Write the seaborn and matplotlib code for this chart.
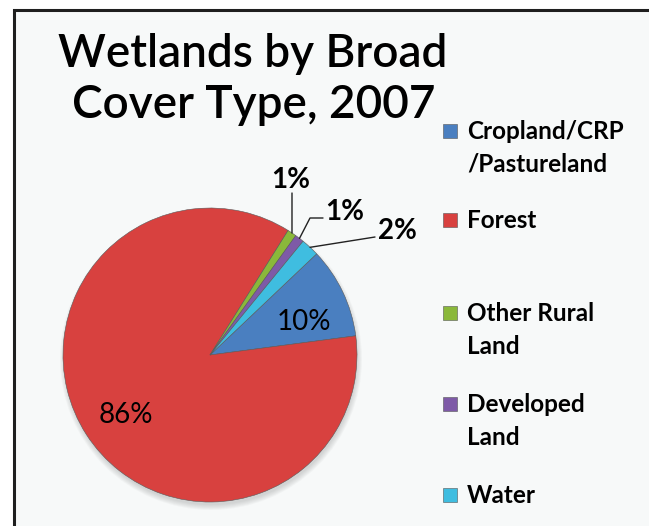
import matplotlib
matplotlib.use("Agg")
import matplotlib.pyplot as plt
import seaborn as sns
import numpy as np
from matplotlib.patches import Rectangle, Circle

# Data
categories = ["Cropland/CRP\n/Pastureland", "Forest", "Other Rural\nLand", "Developed\nLand", "Water"]
shares = [10, 86, 1, 1, 2]
pct_labels = ["10%", "86%", "1%", "1%", "2%"]
colors = ["#4a7fc0", "#d8413f", "#8ab83a", "#7e5aa7", "#3fbde0"]

sns.set_theme(style="white")
plt.rcParams['font.family'] = ['Lato', 'DejaVu Sans']

W, H = 649, 526
fig = plt.figure(figsize=(W / 100, H / 100), dpi=100, facecolor="white")
ax = fig.add_axes([0, 0, 1, 1])


def py(y):
    # pixel row (from top) -> axis y (from bottom)
    return H - y


# chart area with dark frame on left/top
ax.add_patch(Rectangle((13.5, -20), W + 40, py(9.5) + 20, facecolor="#f7f9f9",
                       edgecolor="#1f1f1f", linewidth=2.2, zorder=0))

cx, cy, r = 210, py(355), 147

# soft shadow under the pie
for k in range(6):
    ax.add_patch(Circle((cx + 1, cy - 4), r + 4 - k, facecolor="#7a7a7a",
                        alpha=0.05, edgecolor="none", zorder=0.5))

wedges, _ = ax.pie(shares, colors=colors, startangle=43.5, counterclock=False,
                   center=(cx, cy), radius=r,
                   wedgeprops=dict(edgecolor="#5a5a5a", linewidth=0.4))
ax.set_xlim(0, W)
ax.set_ylim(0, H)
ax.set_aspect("auto")
ax.axis("off")

# inside labels
ax.text(304, py(322), pct_labels[0], ha="center", va="center", fontsize=20, color="black")
ax.text(126, py(415), pct_labels[1], ha="center", va="center", fontsize=20, color="black")

# outside labels with leader lines for the small slices
leaders = {
    2: [(292, py(193))],
    3: [(310, py(218)), (323, py(218))],
    4: [(375, py(237))],
}
text_pos = {
    2: (291, py(180), "center"),
    3: (325, py(212), "left"),
    4: (378, py(231), "left"),
}
for i, pts in leaders.items():
    w = wedges[i]
    mid = np.deg2rad((w.theta1 + w.theta2) / 2)
    start = (cx + r * np.cos(mid), cy + r * np.sin(mid))
    xs = [start[0]] + [p[0] for p in pts]
    ys = [start[1]] + [p[1] for p in pts]
    ax.plot(xs, ys, color="#222222", linewidth=1.0)
    tx, ty, ha = text_pos[i]
    ax.text(tx, ty, pct_labels[i], ha=ha, va="center", fontsize=20,
            fontweight="bold", color="black")

# title
ax.text(253, py(67), "Wetlands by Broad", ha="center", va="baseline", fontsize=33,
        fontweight=600, color="black")
ax.text(254, py(118), "Cover Type, 2007", ha="center", va="baseline", fontsize=33,
        fontweight=600, color="black")

# legend
baselines = [139, 228, 321, 412, 503]
for lab, col, base in zip(categories, colors, baselines):
    ax.add_patch(Rectangle((443, py(base - 1)), 14, 14, facecolor=col,
                           edgecolor="#555555", linewidth=0.4))
    for k, line in enumerate(lab.split("\n")):
        ax.text(467, py(base + k * 33), line, ha="left", va="baseline",
                fontsize=17.5, fontweight="bold", color="black")

fig.savefig("out.png", dpi=100, facecolor="white")
